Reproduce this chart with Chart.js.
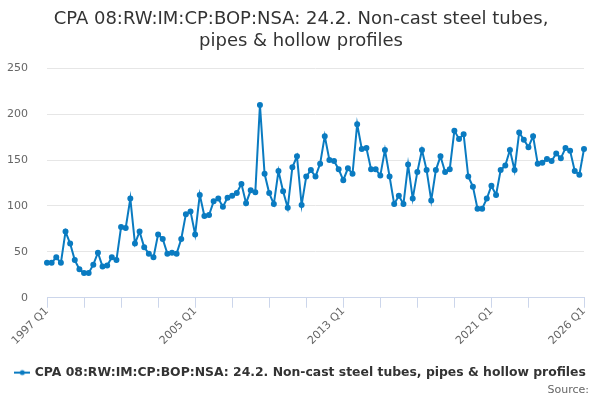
<!DOCTYPE html>
<html>
<head>
<meta charset="utf-8">
<script src="https://cdn.jsdelivr.net/npm/chart.js@4/dist/chart.umd.min.js"></script>
<style>
  html, body { margin: 0; padding: 0; background: #fff; }
  #wrap { width: 600px; height: 400px; }
</style>
</head>
<body>
<div id="wrap"><canvas id="chart"></canvas></div>
<script>
// Quarterly series, 1997 Q1 .. 2026 Q1
const firstYear = 1997;
const lastYear = 2026;
const quarters = [];
for (let y = firstYear; y <= lastYear; y++) {
    for (let q = 1; q <= 4; q++) {
        if (y === lastYear && q > 1) break;
        quarters.push(y + ' Q' + q);
    }
}

const seriesName = 'CPA 08:RW:IM:CP:BOP:NSA: 24.2. Non-cast steel tubes, pipes & hollow profiles';

const values = [
    38, 38, 44, 38, 72, 59, 41, 31, 27, 27, 36, 49, 34, 35, 44, 41,
    77, 76, 108, 59, 72, 55, 48, 44, 69, 64, 48, 49, 48, 64, 91, 94,
    69, 112, 89, 90, 105, 108, 99, 109, 111, 114, 124, 103, 117, 115, 210, 135,
    114, 102, 138, 116, 98, 142, 154, 101, 132, 139, 132, 146, 176, 150, 149, 140,
    128, 141, 135, 189, 162, 163, 140, 140, 133, 161, 132, 102, 111, 102, 145, 108,
    137, 161, 139, 106, 139, 154, 137, 140, 182, 173, 178, 132, 121, 97, 97, 108,
    122, 112, 139, 144, 161, 139, 180, 172, 164, 176, 146, 147, 151, 149, 157, 152,
    163, 160, 138, 134, 162
];

const yTicks = [0, 50, 100, 150, 200, 250];

const lineColor = '#0a7bc1';
const lastIdx = quarters.length - 1;

// small line + dot symbol for the legend
function legendSymbol() {
    const c = document.createElement('canvas');
    c.width = 16; c.height = 10;
    const g = c.getContext('2d');
    g.strokeStyle = lineColor;
    g.lineWidth = 2;
    g.beginPath(); g.moveTo(0, 5); g.lineTo(16, 5); g.stroke();
    g.fillStyle = lineColor;
    g.beginPath(); g.arc(8, 5, 2.5, 0, Math.PI * 2); g.fill();
    return c;
}

Chart.defaults.font.family = '"DejaVu Sans", sans-serif';

new Chart(document.getElementById('chart'), {
    type: 'line',
    data: {
        labels: quarters,
        datasets: [{
            label: seriesName,
            data: values,
            borderColor: lineColor,
            backgroundColor: lineColor,
            borderWidth: 2,
            pointRadius: 2,
            pointHoverRadius: 3,
            tension: 0
        }]
    },
    options: {
        responsive: true,
        maintainAspectRatio: false,
        animation: false,
        layout: { padding: { left: 6, right: 4, top: 4, bottom: 0 } },
        scales: {
            x: {
                offset: false,
                afterFit: axis => {
                    axis.paddingLeft = 0;
                    axis.paddingRight = 16;
                    axis.height += 6;
                },
                grid: {
                    drawOnChartArea: false,
                    drawTicks: true,
                    tickLength: 10,
                    color: ctx => (ctx.index % 8 === 0 && ctx.index !== 112) || ctx.index === lastIdx ? '#ccd6eb' : 'rgba(0,0,0,0)'
                },
                border: { color: '#ccd6eb', width: 1 },
                ticks: {
                    autoSkip: false,
                    minRotation: 45,
                    maxRotation: 45,
                    color: '#666',
                    font: { size: 11 },
                    padding: -3,
                    callback: (v, i) => (i % 32 === 0 || i === lastIdx) ? quarters[i] : ''
                }
            },
            y: {
                min: 0,
                max: 250,
                afterBuildTicks: axis => { axis.ticks = yTicks.map(v => ({ value: v })); },
                afterFit: axis => { axis.width = 41; },
                grid: { color: '#e6e6e6', drawTicks: false },
                border: { display: false },
                ticks: { color: '#666', font: { size: 11 }, padding: 19 }
            }
        },
        plugins: {
            title: {
                display: true,
                text: ['CPA 08:RW:IM:CP:BOP:NSA: 24.2. Non-cast steel tubes,', 'pipes & hollow profiles'],
                color: '#333',
                font: { size: 18, weight: 'normal' },
                padding: { top: 5, bottom: 16 },
                lineHeight: 1.22
            },
            subtitle: {
                display: true,
                position: 'bottom',
                align: 'end',
                text: 'Source:  ',
                color: '#666',
                font: { size: 11 },
                padding: { top: -5, bottom: 3 }
            },
            legend: {
                position: 'bottom',
                labels: {
                    usePointStyle: true,
                    pointStyle: legendSymbol(),
                    color: '#333',
                    font: { size: 12.4, weight: 'bold' },
                    padding: 16
                }
            },
            tooltip: { enabled: false }
        }
    }
});
</script>
</body>
</html>
